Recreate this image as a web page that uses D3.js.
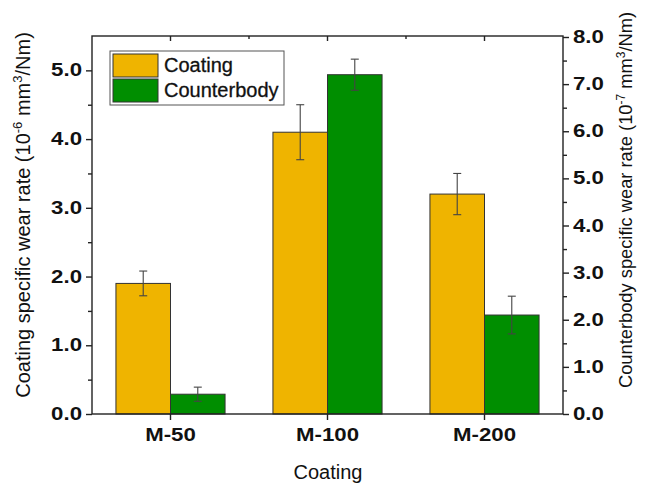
<!DOCTYPE html>
<html>
<head>
<meta charset="utf-8">
<script src="https://cdn.jsdelivr.net/npm/d3@7"></script>
<style>
  html, body { margin: 0; padding: 0; background: #fff; }
  svg text { font-family: "Liberation Sans", Arial, sans-serif; }
</style>
</head>
<body>
<svg id="chart" width="649" height="484"></svg>
<script>
// Wear-rate data per coating sample
const categories = ["M-50", "M-100", "M-200"];
const seriesNames = ["Coating", "Counterbody"];
const coatingRate = [1.9, 4.1, 3.2];          // 10^-6 mm^3/Nm (left axis)
const coatingErr = [0.18, 0.4, 0.3];
const counterbodyRate = [0.42, 7.2, 2.1];     // 10^-7 mm^3/Nm (right axis)
const counterbodyErr = [0.15, 0.33, 0.4];
const leftTicks = [0, 1, 2, 3, 4, 5];
const rightTicks = [0, 1, 2, 3, 4, 5, 6, 7, 8];
const colors = ["#EFB400", "#008E00"];

const svg = d3.select("#chart");
const plot = { left: 92, right: 563, top: 36, bottom: 414 };

const x = d3.scaleBand().domain(categories)
  .range([plot.left, plot.right]).paddingInner(0.305).paddingOuter(0.1525);
const xs = d3.scaleBand().domain(seriesNames).range([0, x.bandwidth()]);
const yL = d3.scaleLinear().domain([0, 5.5]).range([plot.bottom, plot.top]);
const yR = d3.scaleLinear().domain([0, 8.0]).range([plot.bottom, plot.top + 1]);

const rows = categories.map((c, i) => ([
  { cat: c, s: seriesNames[0], v: coatingRate[i], e: coatingErr[i], y: yL },
  { cat: c, s: seriesNames[1], v: counterbodyRate[i], e: counterbodyErr[i], y: yR }
])).flat();

// Bars
svg.append("g").selectAll("rect").data(rows).join("rect")
  .attr("x", d => x(d.cat) + xs(d.s))
  .attr("y", d => d.y(d.v))
  .attr("width", xs.bandwidth())
  .attr("height", d => plot.bottom - d.y(d.v))
  .attr("fill", d => colors[seriesNames.indexOf(d.s)])
  .attr("stroke", "#333").attr("stroke-width", 1);

// Error bars
const eb = svg.append("g").attr("stroke", "#444").attr("stroke-width", 1.1);
rows.forEach(d => {
  const cx = x(d.cat) + xs(d.s) + xs.bandwidth() / 2;
  const y1 = d.y(d.v + d.e), y0 = d.y(d.v - d.e);
  eb.append("line").attr("x1", cx).attr("x2", cx).attr("y1", y1).attr("y2", y0);
  eb.append("line").attr("x1", cx - 4).attr("x2", cx + 4).attr("y1", y1).attr("y2", y1);
  eb.append("line").attr("x1", cx - 4).attr("x2", cx + 4).attr("y1", y0).attr("y2", y0);
});

// Frame
const axisColor = "#222";
svg.append("rect")
  .attr("x", plot.left).attr("y", plot.top)
  .attr("width", plot.right - plot.left).attr("height", plot.bottom - plot.top)
  .attr("fill", "none").attr("stroke", axisColor).attr("stroke-width", 1.4);

// Left axis
const gL = svg.append("g").attr("transform", `translate(${plot.left},0)`)
  .call(d3.axisLeft(yL).tickValues(leftTicks).tickFormat(d3.format(".1f"))
    .tickSize(6).tickPadding(4));
gL.append("g").call(d3.axisLeft(yL).tickValues(d3.range(0.5, 5.5, 1)).tickSize(4).tickFormat(""));

// Right axis
const gR = svg.append("g").attr("transform", `translate(${plot.right},0)`)
  .call(d3.axisRight(yR).tickValues(rightTicks).tickFormat(d3.format(".1f"))
    .tickSize(6).tickPadding(4));
gR.append("g").call(d3.axisRight(yR).tickValues(d3.range(0.5, 8, 1)).tickSize(4).tickFormat(""));

// Bottom axis
const gB = svg.append("g").attr("transform", `translate(0,${plot.bottom})`)
  .call(d3.axisBottom(x).tickSize(6).tickPadding(9));

// Top axis: inward ticks at categories and midpoints
const gT = svg.append("g").attr("transform", `translate(0,${plot.top})`);
const centers = categories.map(c => x(c) + x.bandwidth() / 2);
gT.selectAll("line.maj").data(centers).join("line")
  .attr("x1", d => d).attr("x2", d => d).attr("y1", 0).attr("y2", 5);
gT.selectAll("line.min").data(d3.pairs(centers).map(p => (p[0] + p[1]) / 2)).join("line")
  .attr("x1", d => d).attr("x2", d => d).attr("y1", 0).attr("y2", 3);
gT.selectAll("line").attr("stroke", axisColor).attr("stroke-width", 1.4);

// Tick labels: wide bold face, stretched horizontally about their anchor
const stretch = 1.27;
[gL, gR, gB].forEach(g => {
  g.selectAll(".domain").remove();
  g.selectAll("line").attr("stroke", axisColor).attr("stroke-width", 1.4);
  g.selectAll("text").each(function () {
    const t = d3.select(this);
    const tx = +t.attr("x") || 0;
    t.attr("x", null)
      .attr("transform", `translate(${tx},0) scale(${stretch},1)`);
  })
    .attr("font-size", 17.5).attr("font-weight", "bold")
    .attr("fill", "#111").style("font-family", "'Liberation Sans', Arial, sans-serif");
});

// Axis titles
svg.append("text")
  .attr("x", 328).attr("y", 479).attr("text-anchor", "middle")
  .attr("font-size", 20).attr("fill", "#111").text("Coating");

const lt = svg.append("text")
  .attr("transform", `translate(30,${215}) rotate(-90)`)
  .attr("text-anchor", "middle").attr("font-size", 20).attr("fill", "#111");
lt.append("tspan").text("Coating specific wear rate (10");
lt.append("tspan").attr("dy", -8).attr("font-size", 13).text("-6");
lt.append("tspan").attr("dy", 8).text(" mm");
lt.append("tspan").attr("dy", -8).attr("font-size", 13).text("3");
lt.append("tspan").attr("dy", 8).text("/Nm)");

const rt = svg.append("text")
  .attr("transform", `translate(632,${200}) rotate(-90)`)
  .attr("text-anchor", "middle").attr("font-size", 18.3).attr("fill", "#111");
rt.append("tspan").text("Counterbody specific wear rate (10");
rt.append("tspan").attr("dy", -7).attr("font-size", 12).text("-7");
rt.append("tspan").attr("dy", 7).text(" mm");
rt.append("tspan").attr("dy", -7).attr("font-size", 12).text("3");
rt.append("tspan").attr("dy", 7).text("/Nm)");

// Legend
const lg = svg.append("g");
lg.append("rect").attr("x", 110).attr("y", 51).attr("width", 174).attr("height", 54)
  .attr("fill", "#fff").attr("stroke", "#555").attr("stroke-width", 1);
seriesNames.forEach((s, i) => {
  lg.append("rect").attr("x", 113).attr("y", 54 + i * 25).attr("width", 45).attr("height", 23)
    .attr("fill", colors[i]).attr("stroke", "#333").attr("stroke-width", 1);
  lg.append("text").attr("x", 164).attr("y", 72 + i * 25)
    .attr("font-size", 20).attr("fill", "#111")
    .attr("stroke", "#111").attr("stroke-width", 0.3).text(s);
});
</script>
</body>
</html>
